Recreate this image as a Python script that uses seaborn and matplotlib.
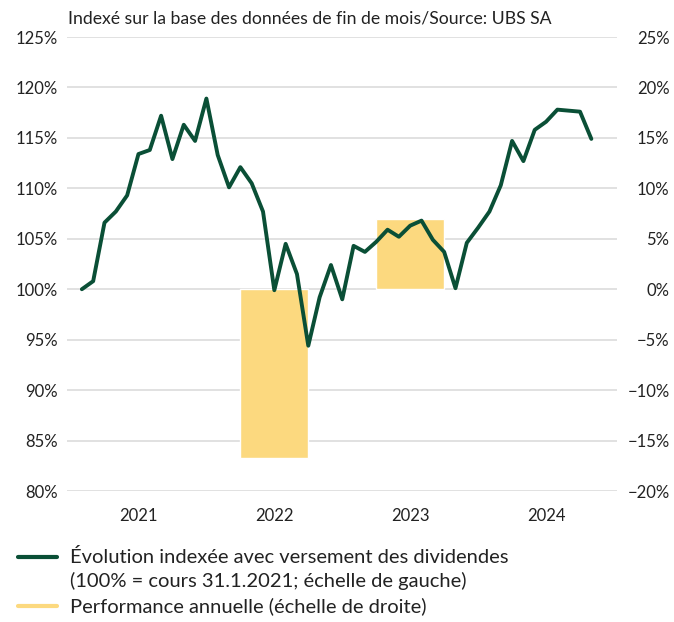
import numpy as np
import pandas as pd
import matplotlib.pyplot as plt
from matplotlib.lines import Line2D
import seaborn as sns

# month-end index values (100% = 31.1.2021)
dates = pd.date_range("2021-01-31", periods=46, freq="ME")
index_values = [100.0, 100.8, 106.6, 107.7, 109.3, 113.4, 113.8, 117.2, 112.9, 116.3, 114.7, 118.9,
                113.3, 110.1, 112.1, 110.5, 107.7, 99.9, 104.5, 101.5, 94.4, 99.2, 102.4, 99.0,
                104.3, 103.7, 104.7, 105.9, 105.2, 106.3, 106.8, 104.9, 103.7, 100.1, 104.6, 106.1,
                107.7, 110.3, 114.7, 112.7, 115.8, 116.6, 117.8, 117.7, 117.6, 114.9]

# annual performance (right axis)
perf_years = [2022, 2023]
perf_values = [-16.7, 7.0]

year_labels = [2021, 2022, 2023, 2024]
left_ticks = list(range(80, 130, 5))
right_ticks = list(range(-20, 30, 5))

title = "Indexé sur la base des données de fin de mois/Source: UBS SA"
label_line = "Évolution indexée avec versement des dividendes\n(100% = cours 31.1.2021; échelle de gauche)"
label_bar = "Performance annuelle (échelle de droite)"

green = "#0a4f36"
yellow = "#fcd97f"
grid_c = "#dcdcdc"
text_c = "#222222"

sns.set_theme(style="white")
plt.rcParams["font.family"] = ["Lato", "DejaVu Sans"]
plt.rcParams["text.color"] = text_c

# decimal year positions (month end ~ start of next month)
xs = dates.year + dates.month / 12

fig = plt.figure(figsize=(6.74, 6.22), dpi=100)
ax = fig.add_axes([0.099, 0.2106, 0.817, 0.7299])
ax2 = ax.twinx()

sns.barplot(x=[y + 0.5 for y in perf_years], y=perf_values, native_scale=True, width=0.5,
            color=yellow, saturation=1, ax=ax2, zorder=2)
sns.lineplot(x=xs, y=index_values, ax=ax, color=green, lw=2.8, zorder=3)

ax.set_zorder(2)
ax2.set_zorder(1)
ax.patch.set_visible(False)

ax.set_xlim(2020.972, 2025.025)
ax.set_ylim(80, 125)
ax2.set_ylim(-20, 25)

ax.set_yticks(left_ticks)
ax.set_yticklabels([f"{v}%" for v in left_ticks], fontsize=12, color=text_c)
ax2.set_yticks(right_ticks)
ax2.set_yticklabels([f"{v}%".replace("-", "\u2212") for v in right_ticks], fontsize=12,
                    color=text_c, ha="right")
ax.set_xticks([y + 0.5 for y in year_labels])
ax.set_xticklabels([str(y) for y in year_labels], fontsize=12, color=text_c)

ax.tick_params(axis="y", length=0, pad=6.3)
ax.tick_params(axis="x", length=0, pad=12)
ax2.tick_params(axis="y", length=0, pad=37.6)
ax2.tick_params(axis="x", length=0)

ax2.grid(axis="y", color=grid_c, lw=1.2)
ax2.set_axisbelow(True)
ax.grid(False)
for a in (ax, ax2):
    a.set_xlabel("")
    a.set_ylabel("")
    for s in a.spines.values():
        s.set_visible(False)

fig.text(68 / 674, 1 - 18 / 622, title, fontsize=12.7, va="center", ha="left")

# legend drawn by hand
fig.add_artist(Line2D([18 / 674, 57 / 674], [1 - 557 / 622] * 2, color=green, lw=3))
fig.add_artist(Line2D([18 / 674, 57 / 674], [1 - 606 / 622] * 2, color=yellow, lw=3))
fig.text(70 / 674, 1 - 557 / 622, label_line.split("\n")[0], fontsize=14.5, va="center")
fig.text(70 / 674, 1 - 581 / 622, label_line.split("\n")[1], fontsize=14.5, va="center")
fig.text(70 / 674, 1 - 606 / 622, label_bar, fontsize=14.5, va="center")

fig.savefig("out.png", dpi=100)
